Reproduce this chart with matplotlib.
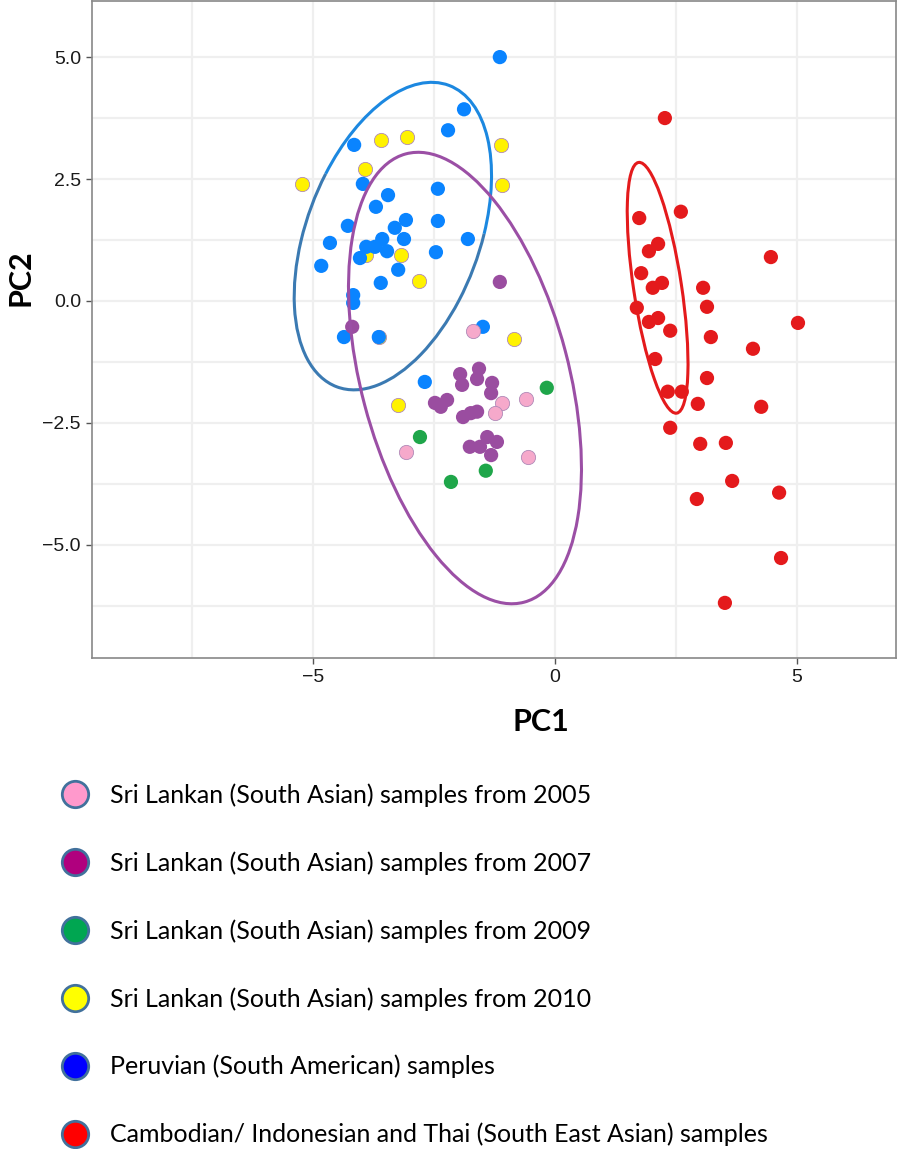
import matplotlib
matplotlib.use("Agg")
import matplotlib.pyplot as plt
from matplotlib.patches import Ellipse, Arc
from matplotlib.lines import Line2D

# ---------------- data ----------------
blue_x = [-1.14, -1.88, -2.21, -4.15, -3.97, -2.42, -3.45, -3.70, -4.28, -3.08, -2.42, -3.31, -1.80, -4.65,
          -3.12, -3.57, -3.72, -3.90, -3.47, -2.46, -4.83, -4.03, -3.24, -3.60, -4.17, -4.17, -4.36, -3.64,
          -1.49, -2.69]
blue_y = [5.00, 3.93, 3.50, 3.20, 2.40, 2.30, 2.17, 1.93, 1.54, 1.66, 1.64, 1.50, 1.27, 1.19,
          1.27, 1.27, 1.11, 1.11, 1.02, 1.00, 0.72, 0.88, 0.64, 0.37, 0.12, -0.04, -0.74, -0.74,
          -0.53, -1.66]

yellow_x = [-5.23, -3.60, -3.06, -1.12, -3.93, -1.10, -3.90, -3.18, -2.81, -3.64, -0.85, -3.24]
yellow_y = [2.40, 3.30, 3.36, 3.20, 2.70, 2.38, 0.94, 0.94, 0.41, -0.74, -0.78, -2.13]

pink_x = [-1.69, -1.10, -1.24, -0.60, -3.08, -0.56]
pink_y = [-0.61, -2.09, -2.30, -2.01, -3.09, -3.20]

green_x = [-0.17, -2.79, -1.43, -2.15]
green_y = [-1.78, -2.79, -3.48, -3.71]

purple_x = [-1.14, -4.19, -1.96, -1.57, -1.61, -1.92, -1.30, -1.32, -2.48, -2.23, -2.36, -1.90, -1.74,
            -1.61, -1.76, -1.55, -1.40, -1.20, -1.32]
purple_y = [0.39, -0.53, -1.50, -1.39, -1.60, -1.72, -1.68, -1.89, -2.09, -2.03, -2.17, -2.38, -2.30,
            -2.27, -2.99, -2.99, -2.79, -2.89, -3.16]

red_x = [2.27, 1.74, 2.60, 2.13, 1.94, 4.46, 1.78, 2.21, 2.02, 3.06, 3.14, 1.69, 2.13, 1.94, 2.38, 3.22,
         4.09, 5.02, 2.07, 3.14, 2.33, 2.62, 2.95, 4.26, 2.38, 3.00, 3.53, 3.66, 4.63, 2.93, 4.67, 3.51]
red_y = [3.75, 1.70, 1.83, 1.17, 1.02, 0.90, 0.57, 0.37, 0.27, 0.27, -0.12, -0.14, -0.35, -0.43, -0.61,
         -0.74, -0.98, -0.45, -1.19, -1.58, -1.86, -1.86, -2.11, -2.17, -2.60, -2.93, -2.91, -3.69,
         -3.93, -4.06, -5.27, -6.19]

# ellipse parameters: centre x, centre y, full width, full height, angle (deg)
ell_blue = [-3.35, 1.33, 6.60, 3.58, 69.4]
ell_purple = [-1.86, -1.58, 9.51, 4.29, 104.9]
ell_red = [2.12, 0.27, 5.20, 0.99, 98.7]

x_ticks = [-5, 0, 5]
y_ticks = [-5.0, -2.5, 0.0, 2.5, 5.0]
y_ticklabels = ["\u22125.0", "\u22122.5", "0.0", "2.5", "5.0"]
x_ticklabels = ["\u22125", "0", "5"]

legend_labels = [
    "Sri Lankan (South Asian) samples from 2005",
    "Sri Lankan (South Asian) samples from 2007",
    "Sri Lankan (South Asian) samples from 2009",
    "Sri Lankan (South Asian) samples from 2010",
    "Peruvian (South American) samples",
    "Cambodian/ Indonesian and Thai (South East Asian) samples",
]
legend_colors = ["#FF99CC", "#B0007E", "#00A651", "#FFFF00", "#0000FF", "#FF0000"]

# ---------------- figure ----------------
W, H = 898, 1149
fig = plt.figure(figsize=(W / 100, H / 100), dpi=100)
ax = fig.add_axes([92 / W, 1 - 658 / H, (896 - 92) / W, (658 - 1) / H])

ax.set_xlim(-9.566, 7.045)
ax.set_ylim(-7.32, 6.15)

# grid
for gx in [-7.5, -5, -2.5, 0, 2.5, 5]:
    ax.axvline(gx, color="#EFEFEF", lw=1.6, zorder=0)
for gy in [-6.25, -5, -3.75, -2.5, -1.25, 0, 1.25, 2.5, 3.75, 5]:
    ax.axhline(gy, color="#EFEFEF", lw=1.6, zorder=0)

s = 105
ax.scatter(yellow_x, yellow_y, s=s, color="#FFF200", edgecolors="#B08AB8", linewidths=0.6, zorder=3)
ax.scatter(blue_x, blue_y, s=s, color="#0A84FF", edgecolors="none", zorder=3)
ax.scatter(purple_x, purple_y, s=s, color="#9A4DA0", edgecolors="none", zorder=3)
ax.scatter(pink_x, pink_y, s=s, color="#F6A9CB", edgecolors="#B08AB8", linewidths=0.6, zorder=3)
ax.scatter(green_x, green_y, s=s, color="#1FA64A", edgecolors="none", zorder=3)
ax.scatter(red_x, red_y, s=s, color="#E41A1C", edgecolors="none", zorder=3)

# ellipses
cx, cy, w, h, a = ell_blue
ax.add_patch(Arc((cx, cy), w, h, angle=a, theta1=-68, theta2=68, color="#1C88E0", lw=2.2, zorder=4))
ax.add_patch(Arc((cx, cy), w, h, angle=a, theta1=68, theta2=292, color="#3B7AB2", lw=2.2, zorder=4))
cx, cy, w, h, a = ell_purple
ax.add_patch(Ellipse((cx, cy), w, h, angle=a, fill=False, edgecolor="#9B4FA5", lw=2.2, zorder=4))
cx, cy, w, h, a = ell_red
ax.add_patch(Ellipse((cx, cy), w, h, angle=a, fill=False, edgecolor="#E41A1C", lw=2.2, zorder=4))

tick_font = dict(fontfamily="Liberation Sans", fontsize=14, color="#1a1a1a")
ax.set_xticks(x_ticks)
ax.set_xticklabels(x_ticklabels, **tick_font)
ax.set_yticks(y_ticks)
ax.set_yticklabels(y_ticklabels, **tick_font)
ax.tick_params(length=4, width=1, color="#555555", pad=4, labelsize=14)
for sp in ax.spines.values():
    sp.set_color("#888888")
    sp.set_linewidth(1.2)

ax.set_xlabel("PC1", fontfamily="Lato", fontweight="bold", fontsize=22)
ax.set_ylabel("PC2", fontfamily="Lato", fontweight="bold", fontsize=22)
ax.xaxis.set_label_coords((541 - 92) / 804, -(722 - 658) / 657, transform=ax.transAxes)
ax.yaxis.set_label_coords((20 - 92) / 804, (658 - 278) / 657, transform=ax.transAxes)
ax.xaxis.label.set_va("center")
ax.yaxis.label.set_va("center")

# legend
handles = [Line2D([], [], marker="o", linestyle="none", markersize=19, markerfacecolor=c,
                  markeredgecolor="#41719C", markeredgewidth=2) for c in legend_colors]
leg = fig.legend(handles, legend_labels, loc="upper left", bbox_to_anchor=(50 / W, 1 - 771 / H),
                 frameon=False, prop={"family": "Lato", "size": 18}, labelspacing=1.77,
                 handlelength=1.0, handletextpad=0.9, borderpad=0)

fig.savefig("out.png", dpi=100)
